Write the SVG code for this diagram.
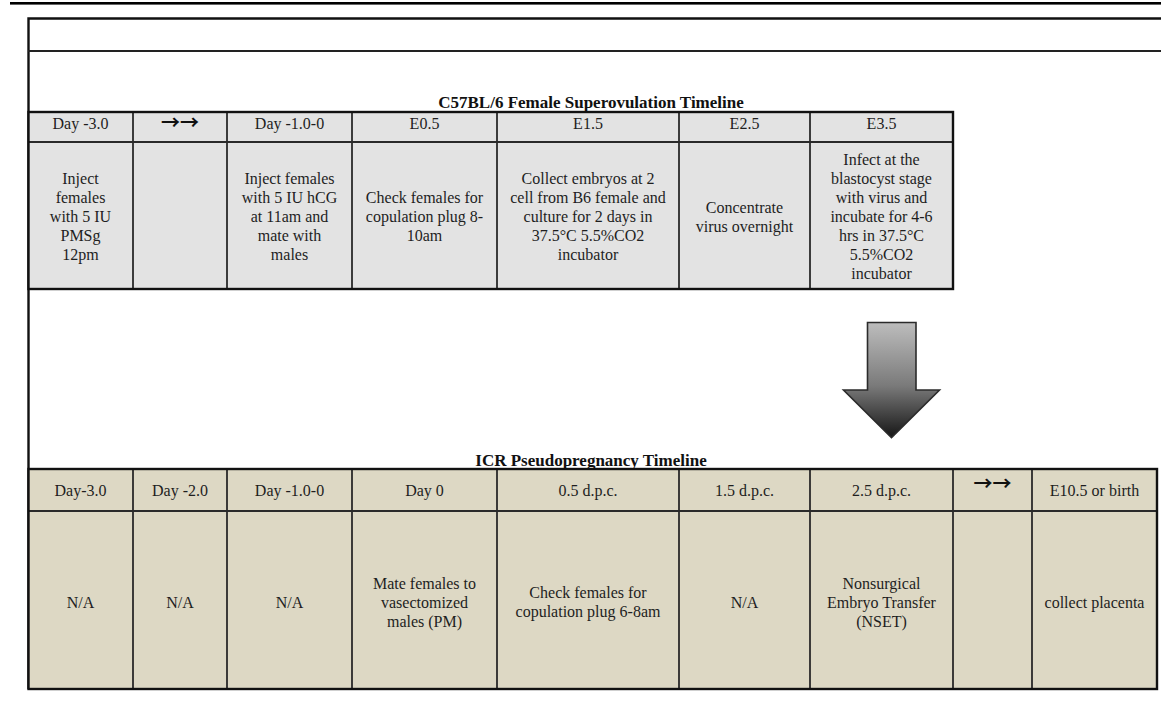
<svg xmlns="http://www.w3.org/2000/svg" width="1161" height="719" viewBox="0 0 1161 719">
<style>
.t{font-family:"Liberation Serif","Times New Roman",serif;font-size:16px;fill:#1e1e1e;text-anchor:middle}
.ttl{font-family:"Liberation Serif","Times New Roman",serif;font-size:17px;font-weight:bold;fill:#111;text-anchor:middle}
.arr{font-family:"Noto Sans CJK SC","DejaVu Sans",sans-serif;font-size:19px;font-weight:bold;fill:#111;text-anchor:middle}
.g{fill:#e3e3e3}
.tan{fill:#ddd8c4}
.grid{stroke:#2a2a2a;stroke-width:1.8;fill:none}
.outer{stroke:#111;stroke-width:2.4;fill:none}
</style>
<defs>
<linearGradient id="ag" x1="0" y1="0" x2="0" y2="1">
<stop offset="0" stop-color="#bdbdbd"/>
<stop offset="0.55" stop-color="#7a7a7a"/>
<stop offset="1" stop-color="#161616"/>
</linearGradient>
</defs>
<rect width="1161" height="719" fill="#fff"/>
<rect x="10" y="2" width="1151" height="2.6" fill="#000"/>
<g id="frame">
<path d="M1161 18.5 H28.5 V689" class="outer"/>
<line x1="28" y1="51" x2="1161" y2="51" stroke="#222" stroke-width="2"/>
</g>
<g id="title-top"><text class="ttl" x="591" y="108">C57BL/6 Female Superovulation Timeline</text></g>
<g id="table-top">
<rect x="28" y="112" width="925" height="177" class="g"/>
<g class="grid">
<line x1="28" y1="142" x2="953" y2="142"/>
<line x1="133" y1="112" x2="133" y2="289"/>
<line x1="227" y1="112" x2="227" y2="289"/>
<line x1="352" y1="112" x2="352" y2="289"/>
<line x1="497" y1="112" x2="497" y2="289"/>
<line x1="679" y1="112" x2="679" y2="289"/>
<line x1="810" y1="112" x2="810" y2="289"/>
</g>
<rect x="28.5" y="112" width="924.5" height="177" class="outer"/>
</g>
<g id="c57-day-3">
<text class="t" x="80.5" y="129">Day -3.0</text>
<text class="t" x="80.5" y="184">Inject</text>
<text class="t" x="80.5" y="203">females</text>
<text class="t" x="80.5" y="222">with 5 IU</text>
<text class="t" x="80.5" y="241">PMSg</text>
<text class="t" x="80.5" y="260">12pm</text>
</g>
<g id="c57-arrows"><text class="arr" x="180" y="129.5">→→</text></g>
<g id="c57-day-1">
<text class="t" x="289.5" y="129">Day -1.0-0</text>
<text class="t" x="289.5" y="184">Inject females</text>
<text class="t" x="289.5" y="203">with 5 IU hCG</text>
<text class="t" x="289.5" y="222">at 11am and</text>
<text class="t" x="289.5" y="241">mate with</text>
<text class="t" x="289.5" y="260">males</text>
</g>
<g id="c57-e05">
<text class="t" x="424.5" y="129">E0.5</text>
<text class="t" x="424.5" y="203">Check females for</text>
<text class="t" x="424.5" y="222">copulation plug 8-</text>
<text class="t" x="424.5" y="241">10am</text>
</g>
<g id="c57-e15">
<text class="t" x="588" y="129">E1.5</text>
<text class="t" x="588" y="184">Collect embryos at 2</text>
<text class="t" x="588" y="203">cell from B6 female and</text>
<text class="t" x="588" y="222">culture for 2 days in</text>
<text class="t" x="588" y="241">37.5°C 5.5%CO2</text>
<text class="t" x="588" y="260">incubator</text>
</g>
<g id="c57-e25">
<text class="t" x="744.5" y="129">E2.5</text>
<text class="t" x="744.5" y="212.5">Concentrate</text>
<text class="t" x="744.5" y="231.5">virus overnight</text>
</g>
<g id="c57-e35">
<text class="t" x="881.5" y="129">E3.5</text>
<text class="t" x="881.5" y="165">Infect at the</text>
<text class="t" x="881.5" y="184">blastocyst stage</text>
<text class="t" x="881.5" y="203">with virus and</text>
<text class="t" x="881.5" y="222">incubate for 4-6</text>
<text class="t" x="881.5" y="241">hrs in 37.5°C</text>
<text class="t" x="881.5" y="260">5.5%CO2</text>
<text class="t" x="881.5" y="279">incubator</text>
</g>
<g id="connectors">
<path d="M867.5 322.5 H916 V390 H939.5 L891.5 437.5 L843.5 390 H867.5 Z" fill="url(#ag)" stroke="#2b2b2b" stroke-width="1.6" stroke-linejoin="miter"/>
</g>
<g id="title-bottom"><text class="ttl" x="591" y="465.5">ICR Pseudopregnancy Timeline</text></g>
<g id="table-bottom">
<rect x="28" y="469" width="1129" height="220" class="tan"/>
<g class="grid">
<line x1="28" y1="511" x2="1157" y2="511"/>
<line x1="133" y1="469" x2="133" y2="689"/>
<line x1="227" y1="469" x2="227" y2="689"/>
<line x1="352" y1="469" x2="352" y2="689"/>
<line x1="497" y1="469" x2="497" y2="689"/>
<line x1="679" y1="469" x2="679" y2="689"/>
<line x1="810" y1="469" x2="810" y2="689"/>
<line x1="953" y1="469" x2="953" y2="689"/>
<line x1="1032" y1="469" x2="1032" y2="689"/>
</g>
<rect x="28.5" y="469" width="1128.5" height="220" class="outer"/>
</g>
<g id="icr-day-3">
<text class="t" x="80.5" y="495.5">Day-3.0</text>
<text class="t" x="80.5" y="607.5">N/A</text>
</g>
<g id="icr-day-2">
<text class="t" x="180" y="495.5">Day -2.0</text>
<text class="t" x="180" y="607.5">N/A</text>
</g>
<g id="icr-day-1">
<text class="t" x="289.5" y="495.5">Day -1.0-0</text>
<text class="t" x="289.5" y="607.5">N/A</text>
</g>
<g id="icr-day0">
<text class="t" x="424.5" y="495.5">Day 0</text>
<text class="t" x="424.5" y="588.5">Mate females to</text>
<text class="t" x="424.5" y="607.5">vasectomized</text>
<text class="t" x="424.5" y="626.5">males (PM)</text>
</g>
<g id="icr-05dpc">
<text class="t" x="588" y="495.5">0.5 d.p.c.</text>
<text class="t" x="588" y="598">Check females for</text>
<text class="t" x="588" y="617">copulation plug 6-8am</text>
</g>
<g id="icr-15dpc">
<text class="t" x="744.5" y="495.5">1.5 d.p.c.</text>
<text class="t" x="744.5" y="607.5">N/A</text>
</g>
<g id="icr-25dpc">
<text class="t" x="881.5" y="495.5">2.5 d.p.c.</text>
<text class="t" x="881.5" y="588.5">Nonsurgical</text>
<text class="t" x="881.5" y="607.5">Embryo Transfer</text>
<text class="t" x="881.5" y="626.5">(NSET)</text>
</g>
<g id="icr-arrows"><text class="arr" x="992.5" y="490.5">→→</text></g>
<g id="icr-e105">
<text class="t" x="1094.5" y="495.5">E10.5 or birth</text>
<text class="t" x="1094.5" y="607.5">collect placenta</text>
</g>
</svg>
